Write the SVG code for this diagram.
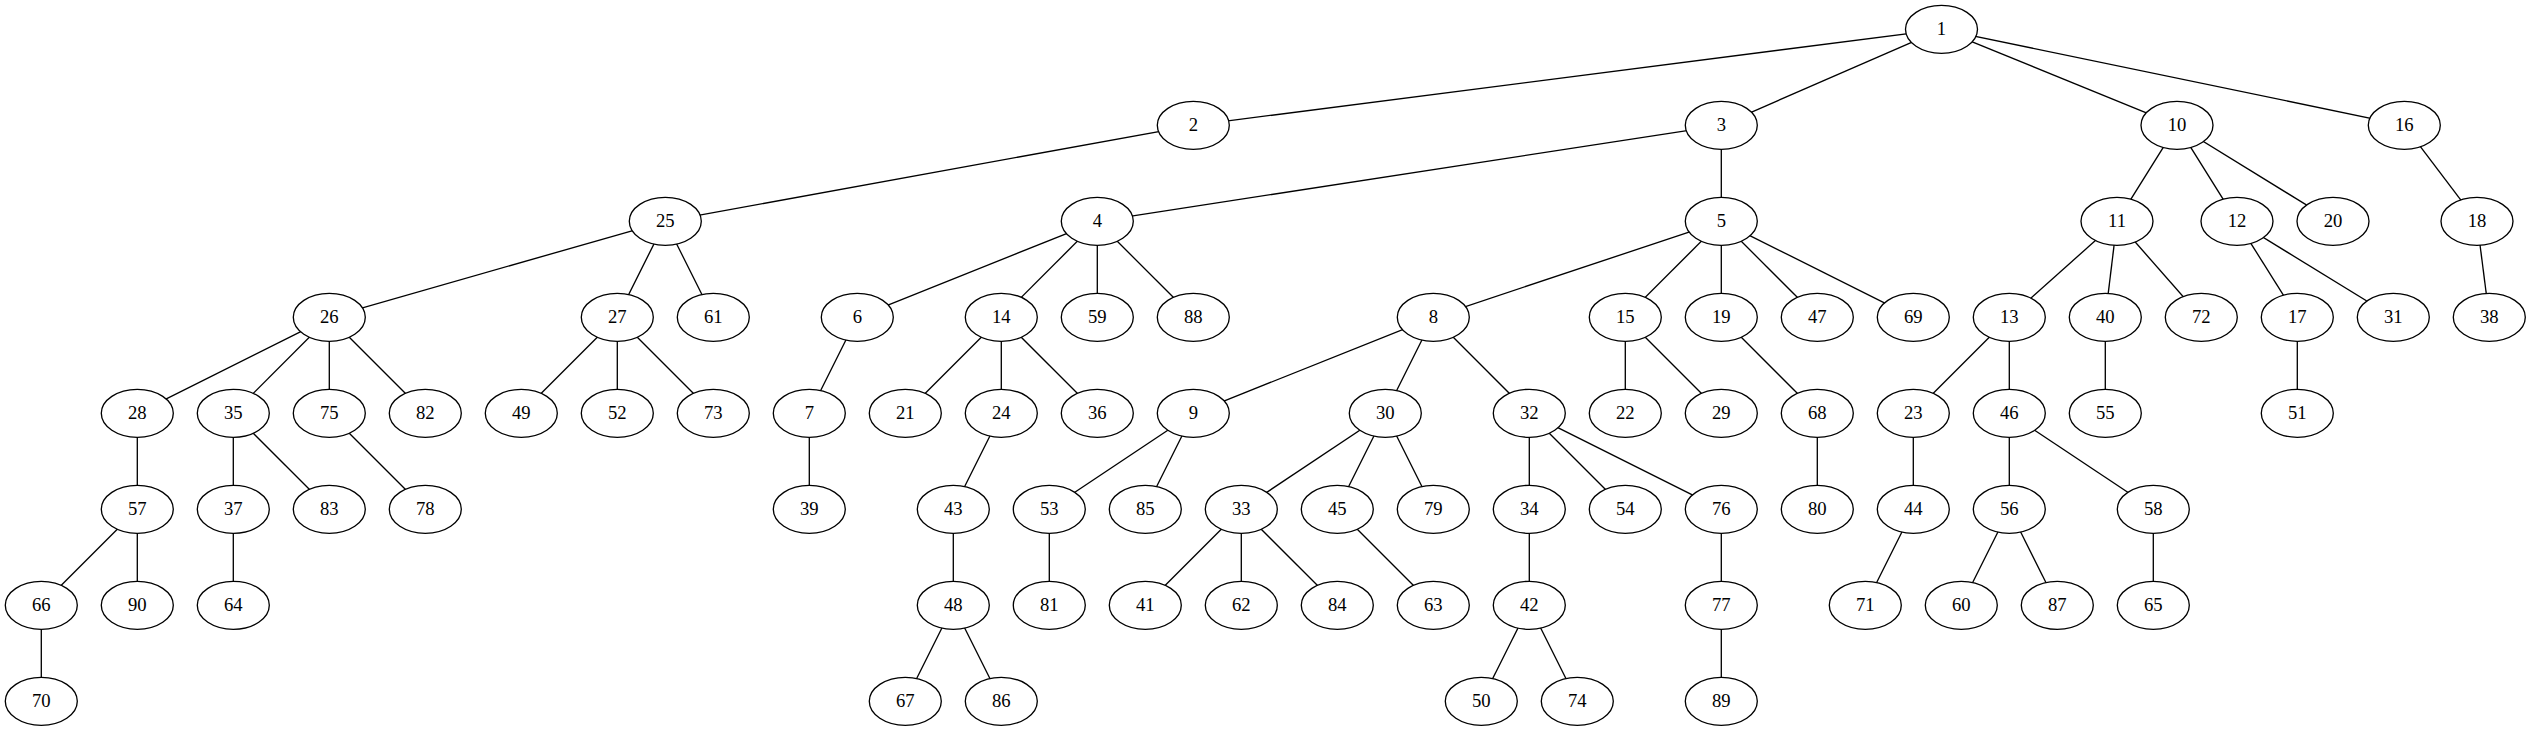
<svg xmlns="http://www.w3.org/2000/svg" width="2531" height="731" viewBox="0 0 2531 731">
<style>
.node ellipse{fill:#fff;stroke:#000;stroke-width:1.33}
.node text{font-family:"Liberation Serif","Times New Roman",serif;font-size:18.67px;text-anchor:middle;fill:#000}
#edges line{stroke:#000;stroke-width:1.33}
</style>
<rect width="2531" height="731" fill="#fff"/>
<g id="edges">
<line x1="1941.5" y1="29.3" x2="1193.3" y2="125.3"/>
<line x1="1941.5" y1="29.3" x2="1721.3" y2="125.3"/>
<line x1="1941.5" y1="29.3" x2="2177" y2="125.3"/>
<line x1="1941.5" y1="29.3" x2="2404.3" y2="125.3"/>
<line x1="1193.3" y1="125.3" x2="665.3" y2="221.3"/>
<line x1="1721.3" y1="125.3" x2="1097.3" y2="221.3"/>
<line x1="1721.3" y1="125.3" x2="1721.3" y2="221.3"/>
<line x1="2177" y1="125.3" x2="2117" y2="221.3"/>
<line x1="2177" y1="125.3" x2="2237" y2="221.3"/>
<line x1="2177" y1="125.3" x2="2333" y2="221.3"/>
<line x1="2404.3" y1="125.3" x2="2477" y2="221.3"/>
<line x1="665.3" y1="221.3" x2="329.3" y2="317.3"/>
<line x1="665.3" y1="221.3" x2="617.3" y2="317.3"/>
<line x1="665.3" y1="221.3" x2="713.3" y2="317.3"/>
<line x1="1097.3" y1="221.3" x2="857.3" y2="317.3"/>
<line x1="1097.3" y1="221.3" x2="1001.3" y2="317.3"/>
<line x1="1097.3" y1="221.3" x2="1097.3" y2="317.3"/>
<line x1="1097.3" y1="221.3" x2="1193.3" y2="317.3"/>
<line x1="1721.3" y1="221.3" x2="1433.3" y2="317.3"/>
<line x1="1721.3" y1="221.3" x2="1625.3" y2="317.3"/>
<line x1="1721.3" y1="221.3" x2="1721.3" y2="317.3"/>
<line x1="1721.3" y1="221.3" x2="1817.3" y2="317.3"/>
<line x1="1721.3" y1="221.3" x2="1913.3" y2="317.3"/>
<line x1="2117" y1="221.3" x2="2009.3" y2="317.3"/>
<line x1="2117" y1="221.3" x2="2105.3" y2="317.3"/>
<line x1="2117" y1="221.3" x2="2201.3" y2="317.3"/>
<line x1="2237" y1="221.3" x2="2297.3" y2="317.3"/>
<line x1="2237" y1="221.3" x2="2393.3" y2="317.3"/>
<line x1="2477" y1="221.3" x2="2489.3" y2="317.3"/>
<line x1="329.3" y1="317.3" x2="137.3" y2="413.3"/>
<line x1="329.3" y1="317.3" x2="233.3" y2="413.3"/>
<line x1="329.3" y1="317.3" x2="329.3" y2="413.3"/>
<line x1="329.3" y1="317.3" x2="425.3" y2="413.3"/>
<line x1="617.3" y1="317.3" x2="521.3" y2="413.3"/>
<line x1="617.3" y1="317.3" x2="617.3" y2="413.3"/>
<line x1="617.3" y1="317.3" x2="713.3" y2="413.3"/>
<line x1="857.3" y1="317.3" x2="809.3" y2="413.3"/>
<line x1="1001.3" y1="317.3" x2="905.3" y2="413.3"/>
<line x1="1001.3" y1="317.3" x2="1001.3" y2="413.3"/>
<line x1="1001.3" y1="317.3" x2="1097.3" y2="413.3"/>
<line x1="1433.3" y1="317.3" x2="1193.3" y2="413.3"/>
<line x1="1433.3" y1="317.3" x2="1385.3" y2="413.3"/>
<line x1="1433.3" y1="317.3" x2="1529.3" y2="413.3"/>
<line x1="1625.3" y1="317.3" x2="1625.3" y2="413.3"/>
<line x1="1625.3" y1="317.3" x2="1721.3" y2="413.3"/>
<line x1="1721.3" y1="317.3" x2="1817.3" y2="413.3"/>
<line x1="2009.3" y1="317.3" x2="1913.3" y2="413.3"/>
<line x1="2009.3" y1="317.3" x2="2009.3" y2="413.3"/>
<line x1="2105.3" y1="317.3" x2="2105.3" y2="413.3"/>
<line x1="2297.3" y1="317.3" x2="2297.3" y2="413.3"/>
<line x1="137.3" y1="413.3" x2="137.3" y2="509.3"/>
<line x1="233.3" y1="413.3" x2="233.3" y2="509.3"/>
<line x1="233.3" y1="413.3" x2="329.3" y2="509.3"/>
<line x1="329.3" y1="413.3" x2="425.3" y2="509.3"/>
<line x1="809.3" y1="413.3" x2="809.3" y2="509.3"/>
<line x1="1001.3" y1="413.3" x2="953.3" y2="509.3"/>
<line x1="1193.3" y1="413.3" x2="1049.3" y2="509.3"/>
<line x1="1193.3" y1="413.3" x2="1145.3" y2="509.3"/>
<line x1="1385.3" y1="413.3" x2="1241.3" y2="509.3"/>
<line x1="1385.3" y1="413.3" x2="1337.3" y2="509.3"/>
<line x1="1385.3" y1="413.3" x2="1433.3" y2="509.3"/>
<line x1="1529.3" y1="413.3" x2="1529.3" y2="509.3"/>
<line x1="1529.3" y1="413.3" x2="1625.3" y2="509.3"/>
<line x1="1529.3" y1="413.3" x2="1721.3" y2="509.3"/>
<line x1="1817.3" y1="413.3" x2="1817.3" y2="509.3"/>
<line x1="1913.3" y1="413.3" x2="1913.3" y2="509.3"/>
<line x1="2009.3" y1="413.3" x2="2009.3" y2="509.3"/>
<line x1="2009.3" y1="413.3" x2="2153.3" y2="509.3"/>
<line x1="137.3" y1="509.3" x2="41.3" y2="605.3"/>
<line x1="137.3" y1="509.3" x2="137.3" y2="605.3"/>
<line x1="233.3" y1="509.3" x2="233.3" y2="605.3"/>
<line x1="953.3" y1="509.3" x2="953.3" y2="605.3"/>
<line x1="1049.3" y1="509.3" x2="1049.3" y2="605.3"/>
<line x1="1241.3" y1="509.3" x2="1145.3" y2="605.3"/>
<line x1="1241.3" y1="509.3" x2="1241.3" y2="605.3"/>
<line x1="1241.3" y1="509.3" x2="1337.3" y2="605.3"/>
<line x1="1337.3" y1="509.3" x2="1433.3" y2="605.3"/>
<line x1="1529.3" y1="509.3" x2="1529.3" y2="605.3"/>
<line x1="1721.3" y1="509.3" x2="1721.3" y2="605.3"/>
<line x1="1913.3" y1="509.3" x2="1865.3" y2="605.3"/>
<line x1="2009.3" y1="509.3" x2="1961.3" y2="605.3"/>
<line x1="2009.3" y1="509.3" x2="2057.3" y2="605.3"/>
<line x1="2153.3" y1="509.3" x2="2153.3" y2="605.3"/>
<line x1="41.3" y1="605.3" x2="41.3" y2="701.3"/>
<line x1="953.3" y1="605.3" x2="905.3" y2="701.3"/>
<line x1="953.3" y1="605.3" x2="1001.3" y2="701.3"/>
<line x1="1529.3" y1="605.3" x2="1481.3" y2="701.3"/>
<line x1="1529.3" y1="605.3" x2="1577.3" y2="701.3"/>
<line x1="1721.3" y1="605.3" x2="1721.3" y2="701.3"/>
</g>
<g id="n1" class="node"><ellipse cx="1941.5" cy="29.3" rx="36" ry="24"/><text x="1941.5" y="34.8">1</text></g>
<g id="n2" class="node"><ellipse cx="1193.3" cy="125.3" rx="36" ry="24"/><text x="1193.3" y="130.8">2</text></g>
<g id="n3" class="node"><ellipse cx="1721.3" cy="125.3" rx="36" ry="24"/><text x="1721.3" y="130.8">3</text></g>
<g id="n10" class="node"><ellipse cx="2177" cy="125.3" rx="36" ry="24"/><text x="2177" y="130.8">10</text></g>
<g id="n16" class="node"><ellipse cx="2404.3" cy="125.3" rx="36" ry="24"/><text x="2404.3" y="130.8">16</text></g>
<g id="n25" class="node"><ellipse cx="665.3" cy="221.3" rx="36" ry="24"/><text x="665.3" y="226.8">25</text></g>
<g id="n4" class="node"><ellipse cx="1097.3" cy="221.3" rx="36" ry="24"/><text x="1097.3" y="226.8">4</text></g>
<g id="n5" class="node"><ellipse cx="1721.3" cy="221.3" rx="36" ry="24"/><text x="1721.3" y="226.8">5</text></g>
<g id="n11" class="node"><ellipse cx="2117" cy="221.3" rx="36" ry="24"/><text x="2117" y="226.8">11</text></g>
<g id="n12" class="node"><ellipse cx="2237" cy="221.3" rx="36" ry="24"/><text x="2237" y="226.8">12</text></g>
<g id="n20" class="node"><ellipse cx="2333" cy="221.3" rx="36" ry="24"/><text x="2333" y="226.8">20</text></g>
<g id="n18" class="node"><ellipse cx="2477" cy="221.3" rx="36" ry="24"/><text x="2477" y="226.8">18</text></g>
<g id="n26" class="node"><ellipse cx="329.3" cy="317.3" rx="36" ry="24"/><text x="329.3" y="322.8">26</text></g>
<g id="n27" class="node"><ellipse cx="617.3" cy="317.3" rx="36" ry="24"/><text x="617.3" y="322.8">27</text></g>
<g id="n61" class="node"><ellipse cx="713.3" cy="317.3" rx="36" ry="24"/><text x="713.3" y="322.8">61</text></g>
<g id="n6" class="node"><ellipse cx="857.3" cy="317.3" rx="36" ry="24"/><text x="857.3" y="322.8">6</text></g>
<g id="n14" class="node"><ellipse cx="1001.3" cy="317.3" rx="36" ry="24"/><text x="1001.3" y="322.8">14</text></g>
<g id="n59" class="node"><ellipse cx="1097.3" cy="317.3" rx="36" ry="24"/><text x="1097.3" y="322.8">59</text></g>
<g id="n88" class="node"><ellipse cx="1193.3" cy="317.3" rx="36" ry="24"/><text x="1193.3" y="322.8">88</text></g>
<g id="n8" class="node"><ellipse cx="1433.3" cy="317.3" rx="36" ry="24"/><text x="1433.3" y="322.8">8</text></g>
<g id="n15" class="node"><ellipse cx="1625.3" cy="317.3" rx="36" ry="24"/><text x="1625.3" y="322.8">15</text></g>
<g id="n19" class="node"><ellipse cx="1721.3" cy="317.3" rx="36" ry="24"/><text x="1721.3" y="322.8">19</text></g>
<g id="n47" class="node"><ellipse cx="1817.3" cy="317.3" rx="36" ry="24"/><text x="1817.3" y="322.8">47</text></g>
<g id="n69" class="node"><ellipse cx="1913.3" cy="317.3" rx="36" ry="24"/><text x="1913.3" y="322.8">69</text></g>
<g id="n13" class="node"><ellipse cx="2009.3" cy="317.3" rx="36" ry="24"/><text x="2009.3" y="322.8">13</text></g>
<g id="n40" class="node"><ellipse cx="2105.3" cy="317.3" rx="36" ry="24"/><text x="2105.3" y="322.8">40</text></g>
<g id="n72" class="node"><ellipse cx="2201.3" cy="317.3" rx="36" ry="24"/><text x="2201.3" y="322.8">72</text></g>
<g id="n17" class="node"><ellipse cx="2297.3" cy="317.3" rx="36" ry="24"/><text x="2297.3" y="322.8">17</text></g>
<g id="n31" class="node"><ellipse cx="2393.3" cy="317.3" rx="36" ry="24"/><text x="2393.3" y="322.8">31</text></g>
<g id="n38" class="node"><ellipse cx="2489.3" cy="317.3" rx="36" ry="24"/><text x="2489.3" y="322.8">38</text></g>
<g id="n28" class="node"><ellipse cx="137.3" cy="413.3" rx="36" ry="24"/><text x="137.3" y="418.8">28</text></g>
<g id="n35" class="node"><ellipse cx="233.3" cy="413.3" rx="36" ry="24"/><text x="233.3" y="418.8">35</text></g>
<g id="n75" class="node"><ellipse cx="329.3" cy="413.3" rx="36" ry="24"/><text x="329.3" y="418.8">75</text></g>
<g id="n82" class="node"><ellipse cx="425.3" cy="413.3" rx="36" ry="24"/><text x="425.3" y="418.8">82</text></g>
<g id="n49" class="node"><ellipse cx="521.3" cy="413.3" rx="36" ry="24"/><text x="521.3" y="418.8">49</text></g>
<g id="n52" class="node"><ellipse cx="617.3" cy="413.3" rx="36" ry="24"/><text x="617.3" y="418.8">52</text></g>
<g id="n73" class="node"><ellipse cx="713.3" cy="413.3" rx="36" ry="24"/><text x="713.3" y="418.8">73</text></g>
<g id="n7" class="node"><ellipse cx="809.3" cy="413.3" rx="36" ry="24"/><text x="809.3" y="418.8">7</text></g>
<g id="n21" class="node"><ellipse cx="905.3" cy="413.3" rx="36" ry="24"/><text x="905.3" y="418.8">21</text></g>
<g id="n24" class="node"><ellipse cx="1001.3" cy="413.3" rx="36" ry="24"/><text x="1001.3" y="418.8">24</text></g>
<g id="n36" class="node"><ellipse cx="1097.3" cy="413.3" rx="36" ry="24"/><text x="1097.3" y="418.8">36</text></g>
<g id="n9" class="node"><ellipse cx="1193.3" cy="413.3" rx="36" ry="24"/><text x="1193.3" y="418.8">9</text></g>
<g id="n30" class="node"><ellipse cx="1385.3" cy="413.3" rx="36" ry="24"/><text x="1385.3" y="418.8">30</text></g>
<g id="n32" class="node"><ellipse cx="1529.3" cy="413.3" rx="36" ry="24"/><text x="1529.3" y="418.8">32</text></g>
<g id="n22" class="node"><ellipse cx="1625.3" cy="413.3" rx="36" ry="24"/><text x="1625.3" y="418.8">22</text></g>
<g id="n29" class="node"><ellipse cx="1721.3" cy="413.3" rx="36" ry="24"/><text x="1721.3" y="418.8">29</text></g>
<g id="n68" class="node"><ellipse cx="1817.3" cy="413.3" rx="36" ry="24"/><text x="1817.3" y="418.8">68</text></g>
<g id="n23" class="node"><ellipse cx="1913.3" cy="413.3" rx="36" ry="24"/><text x="1913.3" y="418.8">23</text></g>
<g id="n46" class="node"><ellipse cx="2009.3" cy="413.3" rx="36" ry="24"/><text x="2009.3" y="418.8">46</text></g>
<g id="n55" class="node"><ellipse cx="2105.3" cy="413.3" rx="36" ry="24"/><text x="2105.3" y="418.8">55</text></g>
<g id="n51" class="node"><ellipse cx="2297.3" cy="413.3" rx="36" ry="24"/><text x="2297.3" y="418.8">51</text></g>
<g id="n57" class="node"><ellipse cx="137.3" cy="509.3" rx="36" ry="24"/><text x="137.3" y="514.8">57</text></g>
<g id="n37" class="node"><ellipse cx="233.3" cy="509.3" rx="36" ry="24"/><text x="233.3" y="514.8">37</text></g>
<g id="n83" class="node"><ellipse cx="329.3" cy="509.3" rx="36" ry="24"/><text x="329.3" y="514.8">83</text></g>
<g id="n78" class="node"><ellipse cx="425.3" cy="509.3" rx="36" ry="24"/><text x="425.3" y="514.8">78</text></g>
<g id="n39" class="node"><ellipse cx="809.3" cy="509.3" rx="36" ry="24"/><text x="809.3" y="514.8">39</text></g>
<g id="n43" class="node"><ellipse cx="953.3" cy="509.3" rx="36" ry="24"/><text x="953.3" y="514.8">43</text></g>
<g id="n53" class="node"><ellipse cx="1049.3" cy="509.3" rx="36" ry="24"/><text x="1049.3" y="514.8">53</text></g>
<g id="n85" class="node"><ellipse cx="1145.3" cy="509.3" rx="36" ry="24"/><text x="1145.3" y="514.8">85</text></g>
<g id="n33" class="node"><ellipse cx="1241.3" cy="509.3" rx="36" ry="24"/><text x="1241.3" y="514.8">33</text></g>
<g id="n45" class="node"><ellipse cx="1337.3" cy="509.3" rx="36" ry="24"/><text x="1337.3" y="514.8">45</text></g>
<g id="n79" class="node"><ellipse cx="1433.3" cy="509.3" rx="36" ry="24"/><text x="1433.3" y="514.8">79</text></g>
<g id="n34" class="node"><ellipse cx="1529.3" cy="509.3" rx="36" ry="24"/><text x="1529.3" y="514.8">34</text></g>
<g id="n54" class="node"><ellipse cx="1625.3" cy="509.3" rx="36" ry="24"/><text x="1625.3" y="514.8">54</text></g>
<g id="n76" class="node"><ellipse cx="1721.3" cy="509.3" rx="36" ry="24"/><text x="1721.3" y="514.8">76</text></g>
<g id="n80" class="node"><ellipse cx="1817.3" cy="509.3" rx="36" ry="24"/><text x="1817.3" y="514.8">80</text></g>
<g id="n44" class="node"><ellipse cx="1913.3" cy="509.3" rx="36" ry="24"/><text x="1913.3" y="514.8">44</text></g>
<g id="n56" class="node"><ellipse cx="2009.3" cy="509.3" rx="36" ry="24"/><text x="2009.3" y="514.8">56</text></g>
<g id="n58" class="node"><ellipse cx="2153.3" cy="509.3" rx="36" ry="24"/><text x="2153.3" y="514.8">58</text></g>
<g id="n66" class="node"><ellipse cx="41.3" cy="605.3" rx="36" ry="24"/><text x="41.3" y="610.8">66</text></g>
<g id="n90" class="node"><ellipse cx="137.3" cy="605.3" rx="36" ry="24"/><text x="137.3" y="610.8">90</text></g>
<g id="n64" class="node"><ellipse cx="233.3" cy="605.3" rx="36" ry="24"/><text x="233.3" y="610.8">64</text></g>
<g id="n48" class="node"><ellipse cx="953.3" cy="605.3" rx="36" ry="24"/><text x="953.3" y="610.8">48</text></g>
<g id="n81" class="node"><ellipse cx="1049.3" cy="605.3" rx="36" ry="24"/><text x="1049.3" y="610.8">81</text></g>
<g id="n41" class="node"><ellipse cx="1145.3" cy="605.3" rx="36" ry="24"/><text x="1145.3" y="610.8">41</text></g>
<g id="n62" class="node"><ellipse cx="1241.3" cy="605.3" rx="36" ry="24"/><text x="1241.3" y="610.8">62</text></g>
<g id="n84" class="node"><ellipse cx="1337.3" cy="605.3" rx="36" ry="24"/><text x="1337.3" y="610.8">84</text></g>
<g id="n63" class="node"><ellipse cx="1433.3" cy="605.3" rx="36" ry="24"/><text x="1433.3" y="610.8">63</text></g>
<g id="n42" class="node"><ellipse cx="1529.3" cy="605.3" rx="36" ry="24"/><text x="1529.3" y="610.8">42</text></g>
<g id="n77" class="node"><ellipse cx="1721.3" cy="605.3" rx="36" ry="24"/><text x="1721.3" y="610.8">77</text></g>
<g id="n71" class="node"><ellipse cx="1865.3" cy="605.3" rx="36" ry="24"/><text x="1865.3" y="610.8">71</text></g>
<g id="n60" class="node"><ellipse cx="1961.3" cy="605.3" rx="36" ry="24"/><text x="1961.3" y="610.8">60</text></g>
<g id="n87" class="node"><ellipse cx="2057.3" cy="605.3" rx="36" ry="24"/><text x="2057.3" y="610.8">87</text></g>
<g id="n65" class="node"><ellipse cx="2153.3" cy="605.3" rx="36" ry="24"/><text x="2153.3" y="610.8">65</text></g>
<g id="n70" class="node"><ellipse cx="41.3" cy="701.3" rx="36" ry="24"/><text x="41.3" y="706.8">70</text></g>
<g id="n67" class="node"><ellipse cx="905.3" cy="701.3" rx="36" ry="24"/><text x="905.3" y="706.8">67</text></g>
<g id="n86" class="node"><ellipse cx="1001.3" cy="701.3" rx="36" ry="24"/><text x="1001.3" y="706.8">86</text></g>
<g id="n50" class="node"><ellipse cx="1481.3" cy="701.3" rx="36" ry="24"/><text x="1481.3" y="706.8">50</text></g>
<g id="n74" class="node"><ellipse cx="1577.3" cy="701.3" rx="36" ry="24"/><text x="1577.3" y="706.8">74</text></g>
<g id="n89" class="node"><ellipse cx="1721.3" cy="701.3" rx="36" ry="24"/><text x="1721.3" y="706.8">89</text></g>
</svg>
